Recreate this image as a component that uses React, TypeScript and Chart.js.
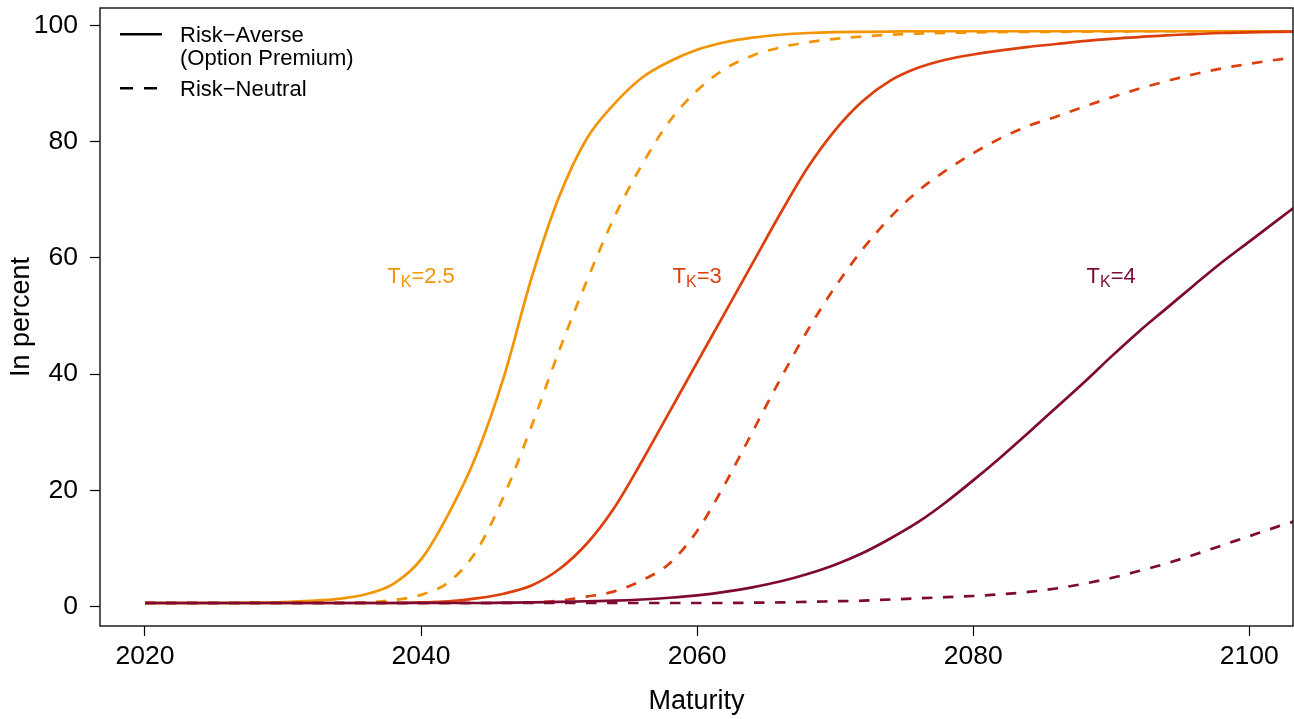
import React, { useEffect, useRef } from "react";
import { Chart, registerables } from "chart.js";

Chart.register(...registerables);

const years = [
  2020, 2022, 2024, 2026, 2028, 2030, 2032, 2034, 2036, 2038, 2040, 2042, 2044, 2046, 2048,
  2050, 2052, 2054, 2056, 2058, 2060, 2062, 2064, 2066, 2068, 2070, 2072, 2074, 2076, 2078,
  2080, 2082, 2084, 2086, 2088, 2090, 2092, 2094, 2096, 2098, 2100, 2102, 2104,
];

// T_K = 2.5
const riskAverse25 = [
  0.6, 0.6, 0.6, 0.6, 0.65, 0.75, 0.95, 1.3, 2.1, 3.9, 8.1, 16.0, 26.0, 39.5, 56.5,
  70.5, 80.5, 86.5, 91.0, 93.8, 95.8, 97.1, 97.9, 98.4, 98.7, 98.85, 98.9, 98.95, 99.0, 99.0,
  99.0, 99.0, 99.0, 99.0, 99.0, 99.0, 99.0, 99.0, 99.0, 99.0, 99.0, 99.0, 99.0,
];
const riskNeutral25 = [
  0.6, 0.6, 0.6, 0.6, 0.6, 0.6, 0.6, 0.6, 0.7, 1.1, 2.0, 4.2, 9.5, 19.0, 31.0,
  44.0, 56.0, 67.0, 76.0, 83.5, 88.8, 92.5, 94.8, 96.2, 97.1, 97.7, 98.1, 98.4, 98.6, 98.7,
  98.8, 98.85, 98.9, 98.9, 98.95, 98.95, 99.0, 99.0, 99.0, 99.0, 99.0, 99.0, 99.0,
];
// T_K = 3
const riskAverse3 = [
  0.6, 0.6, 0.6, 0.6, 0.6, 0.6, 0.6, 0.6, 0.6, 0.6, 0.7, 0.9, 1.4, 2.2, 3.6,
  6.4, 10.8, 17.0, 25.0, 33.5, 42.0, 50.5, 59.0, 67.5, 75.5, 82.0, 87.0, 90.5, 92.7, 94.1,
  95.0, 95.7, 96.3, 96.8, 97.3, 97.7, 98.0, 98.3, 98.5, 98.7, 98.8, 98.9, 98.95,
];
const riskNeutral3 = [
  0.6, 0.6, 0.6, 0.6, 0.6, 0.6, 0.6, 0.6, 0.6, 0.6, 0.6, 0.6, 0.6, 0.6, 0.7,
  1.0, 1.7, 2.6, 4.5, 7.4, 13.0, 21.0, 30.0, 39.0, 47.5, 55.0, 61.5, 67.0, 71.5, 75.0,
  78.0, 80.6, 82.7, 84.3, 86.0, 87.6, 89.1, 90.4, 91.6, 92.6, 93.4, 94.1, 94.7,
];
// T_K = 4
const riskAverse4 = [
  0.6, 0.6, 0.6, 0.6, 0.6, 0.6, 0.6, 0.6, 0.6, 0.6, 0.6, 0.6, 0.6, 0.65, 0.7,
  0.8, 0.9, 1.0, 1.2, 1.5, 1.9, 2.5, 3.3, 4.3, 5.6, 7.2, 9.2, 11.7, 14.5, 17.9,
  21.7, 25.7, 29.9, 34.2, 38.5, 43.0, 47.3, 51.3, 55.3, 59.2, 62.8, 66.4, 70.0,
];
const riskNeutral4 = [
  0.6, 0.6, 0.6, 0.6, 0.6, 0.6, 0.6, 0.6, 0.6, 0.6, 0.6, 0.6, 0.6, 0.6, 0.6,
  0.6, 0.6, 0.6, 0.6, 0.6, 0.6, 0.6, 0.65, 0.7, 0.8, 0.9, 1.0, 1.2, 1.4, 1.6,
  1.8, 2.1, 2.5, 3.1, 3.9, 4.9, 6.1, 7.4, 8.9, 10.5, 12.1, 13.7, 15.2,
];

const xTicks = [2020, 2040, 2060, 2080, 2100];
const yTicks = [0, 20, 40, 60, 80, 100];

const labelYears = [2040, 2060, 2090];
const labelLevel = 57;
const labelValues = ["2.5", "3", "4"];

const ORANGE = "#F39406";
const RED = "#DD3F0C";
const DARK = "#7E0A34";
const labelColors = [ORANGE, RED, DARK];

const FONT = "'Liberation Sans', Arial, Helvetica, sans-serif";

const toPoints = (vals: number[]) => vals.map((v, i) => ({ x: years[i], y: v }));

const decorPlugin = {
  id: "decor",
  afterDatasetsDraw(chart: any) {
    const { ctx, chartArea } = chart;
    const xs = chart.scales.x;
    const ys = chart.scales.y;
    ctx.save();
    // box
    ctx.strokeStyle = "#111";
    ctx.lineWidth = 1.4;
    ctx.strokeRect(chartArea.left, chartArea.top, chartArea.right - chartArea.left, chartArea.bottom - chartArea.top);

    // T_K labels
    labelYears.forEach((yr, i) => {
      const cx = xs.getPixelForValue(yr);
      const cy = ys.getPixelForValue(labelLevel);
      const base = cy + 7.9;
      ctx.fillStyle = labelColors[i];
      ctx.textBaseline = "alphabetic";
      ctx.textAlign = "left";
      ctx.font = `22px ${FONT}`;
      const wT = ctx.measureText("T").width;
      const rest = "=" + labelValues[i];
      const wR = ctx.measureText(rest).width;
      ctx.font = `16px ${FONT}`;
      const wK = ctx.measureText("K").width;
      let x = cx - (wT + wK + wR) / 2;
      ctx.font = `22px ${FONT}`;
      ctx.fillText("T", x, base);
      x += wT;
      ctx.font = `16px ${FONT}`;
      ctx.fillText("K", x, base + 4);
      x += wK;
      ctx.font = `22px ${FONT}`;
      ctx.fillText(rest, x, base);
    });

    // legend
    ctx.strokeStyle = "#000";
    ctx.fillStyle = "#000";
    ctx.lineWidth = 2.6;
    ctx.beginPath();
    ctx.moveTo(120, 34.3);
    ctx.lineTo(162, 34.3);
    ctx.stroke();
    ctx.setLineDash([13, 11]);
    ctx.beginPath();
    ctx.moveTo(120, 88.3);
    ctx.lineTo(162, 88.3);
    ctx.stroke();
    ctx.setLineDash([]);
    ctx.font = `22px ${FONT}`;
    ctx.textBaseline = "middle";
    ctx.textAlign = "left";
    ctx.fillText("Risk\u2212Averse", 180, 36);
    ctx.fillText("(Option Premium)", 180, 58.5);
    ctx.fillText("Risk\u2212Neutral", 180, 90);
    ctx.restore();
  },
};

export default function App() {
  const ref = useRef<HTMLCanvasElement | null>(null);
  useEffect(() => {
    if (!ref.current) return;
    Chart.defaults.font.family = FONT;
    const lw = 2.7;
    const dash = [10.5, 10.5];
    const mk = (label: string, vals: number[], color: string, dashed: boolean) => ({
      label,
      data: toPoints(vals),
      borderColor: color,
      backgroundColor: color,
      borderWidth: lw,
      borderDash: dashed ? dash : [],
      borderCapStyle: "butt" as const,
      pointRadius: 0,
      cubicInterpolationMode: "monotone" as const,
      fill: false,
    });
    const chart = new Chart(ref.current, {
      type: "line",
      data: {
        datasets: [
          mk("Risk-Averse T=4", riskAverse4, DARK, false),
          mk("Risk-Neutral T=4", riskNeutral4, DARK, true),
          mk("Risk-Averse T=3", riskAverse3, RED, false),
          mk("Risk-Neutral T=3", riskNeutral3, RED, true),
          mk("Risk-Averse T=2.5", riskAverse25, ORANGE, false),
          mk("Risk-Neutral T=2.5", riskNeutral25, ORANGE, true),
        ],
      },
      options: {
        animation: false,
        responsive: false,
        maintainAspectRatio: false,
        devicePixelRatio: 1,
        layout: { padding: { top: 8, right: 1, left: 0, bottom: 0 } },
        plugins: { legend: { display: false }, tooltip: { enabled: false } },
        scales: {
          x: {
            type: "linear",
            min: 2016.74,
            max: 2103.17,
            afterBuildTicks: (s: any) => {
              s.ticks = xTicks.map((v) => ({ value: v }));
            },
            afterFit: (s: any) => {
              s.height = 93;
              s.paddingLeft = 0;
              s.paddingRight = 0;
            },
            ticks: {
              color: "#000",
              font: { size: 26.5, family: FONT },
              padding: 5,
              maxRotation: 0,
              autoSkip: false,
              callback: (v: any) => String(v),
            },
            grid: { display: true, drawOnChartArea: false, drawTicks: true, tickLength: 10, tickColor: "#000", tickWidth: 1.2 },
            border: { display: false },
            title: { display: true, text: "Maturity", color: "#000", font: { size: 27, family: FONT }, padding: { top: 0, bottom: 1 } },
          },
          y: {
            type: "linear",
            min: -3.36,
            max: 103.0,
            afterBuildTicks: (s: any) => {
              s.ticks = yTicks.map((v) => ({ value: v }));
            },
            afterFit: (s: any) => {
              s.width = 100;
              s.paddingTop = 0;
              s.paddingBottom = 0;
            },
            ticks: {
              color: "#000",
              font: { size: 26.5, family: FONT },
              padding: 12,
              autoSkip: false,
              callback: (v: any) => String(v),
            },
            grid: { display: true, drawOnChartArea: false, drawTicks: true, tickLength: 10, tickColor: "#000", tickWidth: 1.2 },
            border: { display: false },
            title: { display: true, text: "In percent", color: "#000", font: { size: 27, family: FONT }, padding: { top: 5, bottom: 0 } },
          },
        },
      },
      plugins: [decorPlugin],
    });
    return () => chart.destroy();
  }, []);
  return (
    <div style={{ position: "fixed", left: 0, top: 0, width: 1294, height: 719, background: "#fff" }}>
      <canvas ref={ref} width={1294} height={719} style={{ width: 1294, height: 719, display: "block" }} />
    </div>
  );
}
